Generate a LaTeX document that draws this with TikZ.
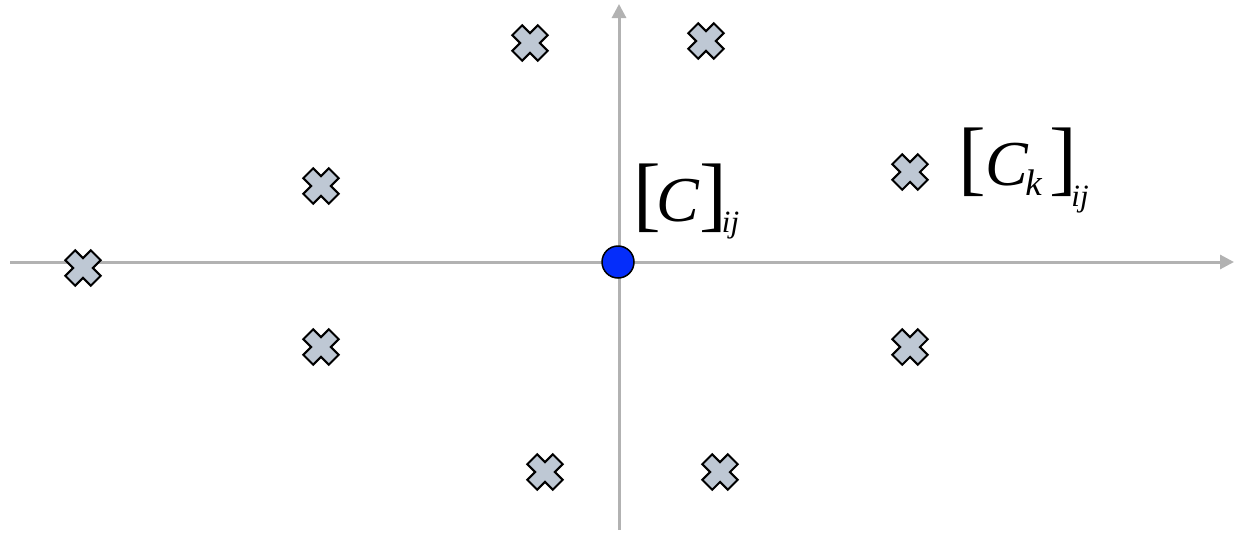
\documentclass[tikz,border=0pt]{standalone}
\usepackage{fontspec}
\setmainfont{Liberation Serif}
\usetikzlibrary{arrows.meta}
\definecolor{axisgray}{RGB}{178,178,178}
\definecolor{xfill}{RGB}{190,200,212}
\definecolor{dotblue}{RGB}{5,45,250}
\newcommand{\bigbr}[1]{{\fontsize{83}{83}\selectfont #1}}
\newcommand{\bigC}[1]{{\fontsize{64}{64}\selectfont\itshape #1}}
\newcommand{\subtx}[1]{{\fontsize{31}{31}\selectfont\itshape #1}}
\newcommand{\subk}[1]{{\fontsize{37}{37}\selectfont\itshape #1}}
\tikzset{
  axis/.style={draw=axisgray, line width=3pt, -{Triangle[length=14pt,width=14pt]}},
  xmark/.pic={
    \path[draw=black, fill=xfill, line width=2pt, line join=miter, rotate=45]
      (7,18) -- (7,7) -- (18,7) -- (18,-7) -- (7,-7) -- (7,-18)
      -- (-7,-18) -- (-7,-7) -- (-18,-7) -- (-18,7) -- (-7,7) -- (-7,18) -- cycle;
  },
  origin/.style={circle, draw=black, fill=dotblue, line width=1.5pt, minimum size=32pt, inner sep=0pt},
  lbl/.style={anchor=base west, inner sep=0pt, outer sep=0pt}
}
\begin{document}
\begin{tikzpicture}[x=1pt, y=-1pt]
\useasboundingbox (0,0) rectangle (1234,533);
% axes
\coordinate (hstart) at (10,262);
\coordinate (hend) at (1234,262);
\coordinate (vstart) at (619,530);
\coordinate (vend) at (619,4);
\draw[axis] (hstart) -- (hend);
\draw[axis] (vstart) -- (vend);
% crosses
\pic (c1) at (530,43) {xmark};
\pic (c2) at (706,41) {xmark};
\pic (c3) at (321,186) {xmark};
\pic (c4) at (910,172) {xmark};
\pic (c5) at (83,268) {xmark};
\pic (c6) at (321,347) {xmark};
\pic (c7) at (910,347) {xmark};
\pic (c8) at (545,472) {xmark};
\pic (c9) at (720,472) {xmark};
% origin
\node[origin] (o) at (618,262) {};
% labels
\node[lbl] (l1) at (633,221) {\bigbr{[}\kern-4pt\bigC{C}\bigbr{]}\kern-5pt\raisebox{-11pt}{\subtx{ij}}};
\node[lbl] (l2) at (958,185) {\bigbr{[}\bigC{C}\kern-3pt\raisebox{-10pt}{\subk{k}}\kern8pt\bigbr{]}\kern-6pt\raisebox{-21pt}{\subtx{ij}}};
\end{tikzpicture}
\end{document}
